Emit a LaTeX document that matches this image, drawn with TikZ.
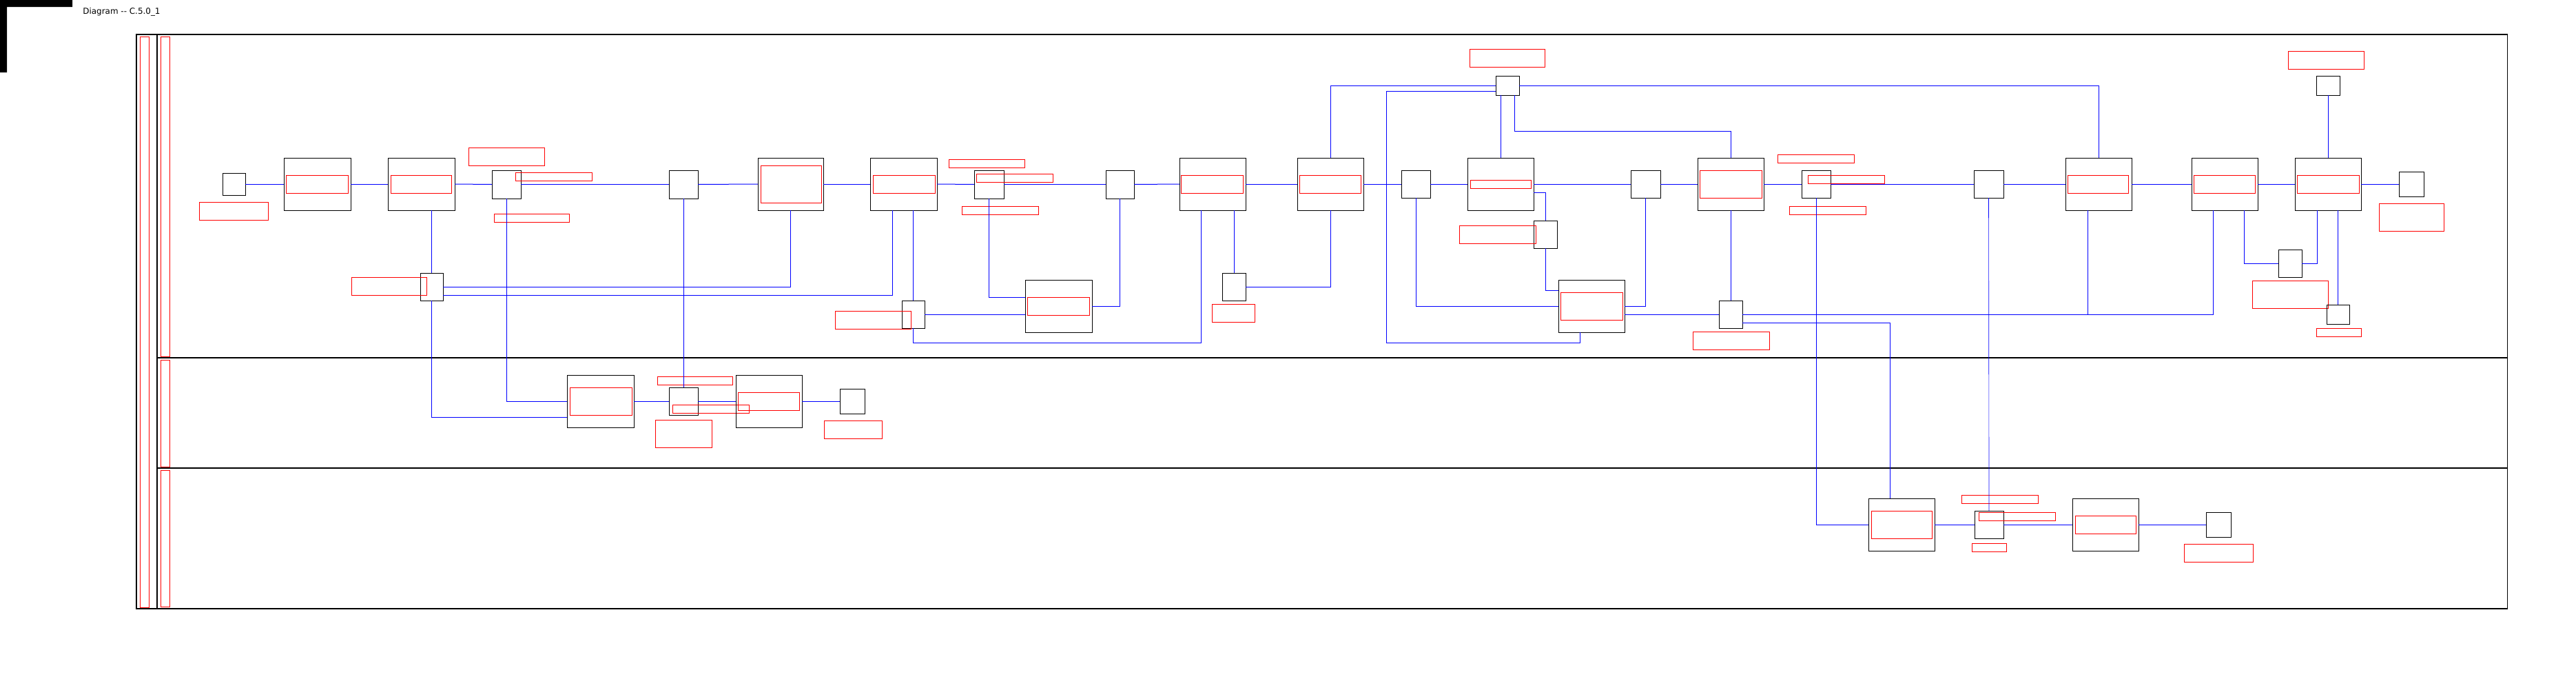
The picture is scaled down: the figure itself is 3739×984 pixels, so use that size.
\documentclass[tikz,border=0pt]{standalone}
\usepackage{fontspec}
\setmainfont{DejaVu Sans}
\usetikzlibrary{calc}
\newcommand\mkbox[6]{\node[#1,anchor=north west,minimum width={(#5-#3)*0.2mm},minimum height={(#6-#4)*0.2mm}] (#2) at (#3,#4) {};}
\begin{document}
\begin{tikzpicture}[x=0.2mm,y=-0.2mm,
  bx/.style={draw=black,line width=0.2mm,inner sep=0pt,outer sep=0pt},
  lb/.style={draw=red,line width=0.2mm,inner sep=0pt,outer sep=0pt},
  frame/.style={draw=black,line width=0.22mm,inner sep=0pt,outer sep=0pt},
  flow/.style={draw=blue,line width=0.2mm},
  thinflow/.style={draw=blue,line width=0.13mm}]
\useasboundingbox (0,0) rectangle (3739,984);
% corner mark and title
\fill[black] (0,0) -- (105,0) -- (105,10) -- (10,10) -- (10,105) -- (0,105) -- cycle;
\node[anchor=base west,inner sep=0pt,font=\fontsize{6.8pt}{8pt}\selectfont] (title) at (120,20) {Diagram -{}- C.5.0\_1};
% pool and lanes
\mkbox{frame}{pool}{198}{50}{3639}{883}
\mkbox{frame}{laneA}{228}{50}{3639}{519}
\mkbox{frame}{laneB}{228}{519}{3639}{679}
\mkbox{frame}{laneC}{228}{679}{3639}{883}
\draw[line width=0.45mm] (laneC.south west) -- (laneC.south east);
\mkbox{lb}{poolL}{203}{53}{216}{881}
\mkbox{lb}{laneAL}{233}{53}{246}{517}
\mkbox{lb}{laneBL}{233}{522}{246}{677}
\mkbox{lb}{laneCL}{233}{682}{246}{880}
% lane 1 elements
\mkbox{bx}{st}{323}{251}{356}{283}
\mkbox{lb}{stL}{289}{293}{389}{319}
\mkbox{bx}{tA}{412}{229}{509}{305}
\mkbox{lb}{tAL}{415}{254}{505}{280}
\mkbox{bx}{tB}{563}{229}{660}{305}
\mkbox{lb}{tBL}{567}{254}{655}{280}
\mkbox{bx}{g1}{714}{247}{756}{288}
\mkbox{lb}{g1La}{680}{214}{790}{240}
\mkbox{lb}{g1Lb}{748}{250}{859}{262}
\mkbox{lb}{g1Lc}{717}{310}{826}{322}
\mkbox{bx}{g2}{971}{247}{1013}{288}
\mkbox{bx}{tC}{1100}{229}{1195}{305}
\mkbox{lb}{tCL}{1104}{240}{1192}{294}
\mkbox{bx}{tD}{1263}{229}{1360}{305}
\mkbox{lb}{tDL}{1267}{254}{1357}{280}
\mkbox{bx}{g3}{1414}{247}{1457}{288}
\mkbox{lb}{g3La}{1377}{231}{1487}{243}
\mkbox{lb}{g3Lb}{1417}{252}{1528}{264}
\mkbox{lb}{g3Lc}{1396}{299}{1507}{311}
\mkbox{bx}{g4}{1605}{247}{1646}{288}
\mkbox{bx}{tE}{1712}{229}{1808}{305}
\mkbox{lb}{tEL}{1714}{254}{1804}{280}
\mkbox{bx}{tF}{1883}{229}{1979}{305}
\mkbox{lb}{tFL}{1886}{254}{1975}{280}
\mkbox{bx}{g5}{2034}{247}{2076}{287}
\mkbox{bx}{tG}{2130}{229}{2226}{305}
\mkbox{lb}{tGL}{2134}{261}{2222}{273}
\mkbox{bx}{g6}{2171}{110}{2205}{138}
\mkbox{lb}{g6L}{2133}{71}{2242}{97}
\mkbox{bx}{g7}{2226}{320}{2260}{360}
\mkbox{lb}{g7L}{2118}{327}{2229}{353}
\mkbox{bx}{tH}{2262}{406}{2358}{482}
\mkbox{lb}{tHL}{2265}{424}{2355}{464}
\mkbox{bx}{g8}{1774}{396}{1808}{436}
\mkbox{lb}{g8L}{1759}{441}{1821}{467}
\mkbox{bx}{g9}{2495}{436}{2529}{476}
\mkbox{lb}{g9L}{2457}{481}{2568}{507}
\mkbox{bx}{g10}{2367}{247}{2410}{287}
\mkbox{bx}{tI}{2464}{229}{2560}{305}
\mkbox{lb}{tIL}{2467}{247}{2557}{287}
\mkbox{bx}{g11}{2615}{247}{2657}{287}
\mkbox{lb}{g11La}{2580}{224}{2691}{236}
\mkbox{lb}{g11Lb}{2624}{254}{2735}{266}
\mkbox{lb}{g11Lc}{2597}{299}{2708}{311}
\mkbox{bx}{g12}{2865}{247}{2908}{287}
\mkbox{bx}{tJ}{2998}{229}{3094}{305}
\mkbox{lb}{tJL}{3001}{254}{3089}{280}
\mkbox{bx}{tK}{3181}{229}{3277}{305}
\mkbox{lb}{tKL}{3184}{254}{3273}{280}
\mkbox{bx}{tL}{3331}{229}{3427}{305}
\mkbox{lb}{tLL}{3334}{254}{3424}{280}
\mkbox{bx}{en}{3482}{249}{3518}{285}
\mkbox{lb}{enL}{3453}{295}{3547}{335}
\mkbox{bx}{g13}{3362}{110}{3396}{138}
\mkbox{lb}{g13L}{3321}{74}{3431}{100}
\mkbox{bx}{g14}{3307}{362}{3341}{402}
\mkbox{lb}{g14L}{3269}{407}{3379}{447}
\mkbox{bx}{g15}{3377}{442}{3410}{470}
\mkbox{lb}{g15L}{3362}{476}{3427}{488}
\mkbox{bx}{g16}{610}{396}{643}{436}
\mkbox{lb}{g16L}{510}{402}{619}{428}
\mkbox{bx}{g17}{1309}{436}{1342}{476}
\mkbox{lb}{g17L}{1212}{451}{1322}{477}
\mkbox{bx}{tM}{1488}{406}{1585}{482}
\mkbox{lb}{tML}{1491}{431}{1581}{457}
% lane 2 elements
\mkbox{bx}{tN}{823}{544}{920}{620}
\mkbox{lb}{tNL}{827}{562}{917}{602}
\mkbox{bx}{g18}{971}{562}{1013}{602}
\mkbox{lb}{g18La}{954}{546}{1063}{558}
\mkbox{lb}{g18Lb}{976}{587}{1087}{599}
\mkbox{lb}{g18Lc}{951}{609}{1033}{649}
\mkbox{bx}{tO}{1068}{544}{1164}{620}
\mkbox{lb}{tOL}{1071}{569}{1160}{595}
\mkbox{bx}{enB}{1219}{564}{1255}{600}
\mkbox{lb}{enBL}{1196}{610}{1280}{636}
% lane 3 elements
\mkbox{bx}{tP}{2712}{723}{2808}{799}
\mkbox{lb}{tPL}{2716}{741}{2804}{781}
\mkbox{bx}{g19}{2866}{741}{2908}{781}
\mkbox{lb}{g19La}{2847}{718}{2958}{730}
\mkbox{lb}{g19Lb}{2872}{743}{2983}{755}
\mkbox{lb}{g19Lc}{2862}{788}{2912}{800}
\mkbox{bx}{tQ}{3008}{723}{3104}{799}
\mkbox{lb}{tQL}{3012}{748}{3100}{774}
\mkbox{bx}{enC}{3202}{743}{3238}{779}
\mkbox{lb}{enCL}{3170}{789}{3270}{815}
% main sequence, lane 1
\draw[flow] (st.east) -- (tA.west);
\draw[flow] (tA.east) -- (tB.west);
\draw[flow] (tB.east) -- (g1.west);
\draw[flow] (g1.east) -- (g2.west);
\draw[flow] (g2.east) -- (tC.west);
\draw[flow] (tC.east) -- (tD.west);
\draw[flow] (tD.east) -- (g3.west);
\draw[flow] (g3.east) -- (g4.west);
\draw[flow] (g4.east) -- (tE.west);
\draw[flow] (tE.east) -- (tF.west);
\draw[flow] (tF.east) -- (g5.west);
\draw[flow] (g5.east) -- (tG.west);
\draw[flow] (tG.east) -- (g10.west);
\draw[flow] (g10.east) -- (tI.west);
\draw[flow] (tI.east) -- (g11.west);
\draw[flow] (g11.east) -- (g12.west);
\draw[flow] (g12.east) -- (tJ.west);
\draw[flow] (tJ.east) -- (tK.west);
\draw[flow] (tK.east) -- (tL.west);
\draw[flow] (tL.east) -- (en.west);
% lane 2 and lane 3 sequences
\draw[flow] (tN.east) -- (g18.west);
\draw[flow] (g18.east) -- (tO.west);
\draw[flow] (tO.east) -- (enB.west);
\draw[flow] (tP.east) -- (g19.west);
\draw[flow] (g19.east) -- (tQ.west);
\draw[flow] (tQ.east) -- (enC.west);
% branches
\draw[flow] (g16.north |- tB.south) -- (g16.north);
\draw[flow] (tC.south) |- (g16.east);
\draw[flow] ([shift={(32,0)}]tD.south west) |- ([shift={(0,-8)}]g16.south east);
\draw[flow] (g16.south) |- ([shift={(0,-15)}]tN.south west);
\draw[flow] (g1.south) |- (tN.west);
\draw[flow] (g2.south) -- (g18.north);
\draw[flow] (g17.north |- tD.south) -- (g17.north);
\draw[flow] (g17.east) -- (g17.east -| tM.west);
\draw[flow] (g17.south) -- ++(0,21) -| ([shift={(31,0)}]tE.south west);
\draw[flow] (g3.south) |- ([shift={(0,25)}]tM.north west);
\draw[flow] (g4.south) |- ([shift={(0,38)}]tM.north east);
\draw[thinflow] (g8.north |- tE.south) -- (g8.north);
\draw[flow] (g8.east) -| (tF.south);
\draw[flow] (tF.north) |- (g6.west);
\draw[thinflow] ([shift={(0,8)}]g6.west) -| (2012,497) -| ([shift={(31,0)}]tH.south west);
\draw[flow] (tG.north |- g6.south) -- (tG.north);
\draw[flow] ([shift={(27,0)}]g6.south west) -- ++(0,52) -| (tI.north);
\draw[thinflow] (g6.east) -| (tJ.north);
\draw[flow] ([shift={(0,12)}]tG.east) -| (g7.north);
\draw[flow] (g7.south) |- ([shift={(0,15)}]tH.north west);
\draw[flow] (g5.south) |- ([shift={(0,38)}]tH.north west);
\draw[flow] ([shift={(0,38)}]tH.north east) -| (g10.south);
\draw[flow] ([shift={(0,50)}]tH.north east) -- (g9.west);
\draw[flow] (g9.north) -- (tI.south);
\draw[flow] (g9.east) -| ([shift={(31,0)}]tK.south west);
\draw[flow] ([shift={(32,0)}]tJ.south west) -- ([shift={(32,0)}]tJ.south west |- g9.east);
\draw[thinflow] ([shift={(0,32)}]g9.north east) -| ([shift={(31,0)}]tP.north west);
\draw[flow] (g11.south) |- (tP.west);
\draw[thinflow] (g12.south) -- (g19.north);
\draw[flow] ([shift={(76,0)}]tK.south west) |- (g14.west);
\draw[flow] (g14.east) -| ([shift={(32,0)}]tL.south west);
\draw[flow] (g15.north |- tL.south) -- (g15.north);
\draw[flow] (g13.south) -- (tL.north);
\end{tikzpicture}
\end{document}
